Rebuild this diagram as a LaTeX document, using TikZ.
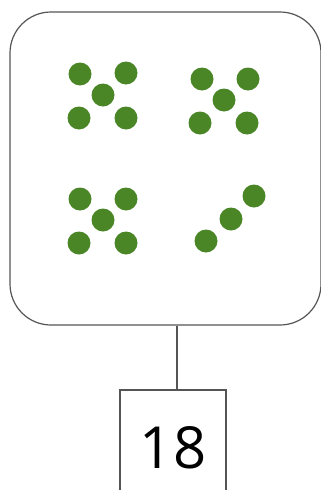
\documentclass[tikz,border=0pt]{standalone}
\usepackage{fontspec}
\setmainfont{Open Sans}
\begin{document}
\begin{tikzpicture}[x=1pt,y=-1pt,
  dot/.style={circle,fill=dotgreen,draw=none,minimum size=23pt,inner sep=0pt},
  frame/.style={draw=linegray,line width=1.2pt},
]
\definecolor{dotgreen}{HTML}{4A8526}
\definecolor{linegray}{HTML}{555555}
\useasboundingbox (0,0) rectangle (321,490);
\node[frame,rounded corners=41pt,minimum width=311pt,minimum height=313pt,inner sep=0pt] (card) at (165.5,168.5) {};
% group 1
\foreach \n/\x/\y in {a1/80/74,a2/126/73,a3/103/95,a4/79/118,a5/126/118,
  b1/202/79,b2/248/79,b3/224/100,b4/200/123,b5/247/123,
  c1/80/199,c2/126/199,c3/103/220,c4/79/243,c5/126/243,
  d1/254/196,d2/231/219,d3/206/241}
  \node[dot] (\n) at (\x,\y) {};
\coordinate (boxtop) at (177,390);
\draw[linegray,line width=1.2pt] (120,491) -- (120,390) -- (226,390) -- (226,491);
\node[font=\fontsize{58}{60}\selectfont] (num) at (173,448) {18};
\draw[linegray,line width=1.2pt] (card.south -| boxtop) -- (boxtop);
\end{tikzpicture}
\end{document}
